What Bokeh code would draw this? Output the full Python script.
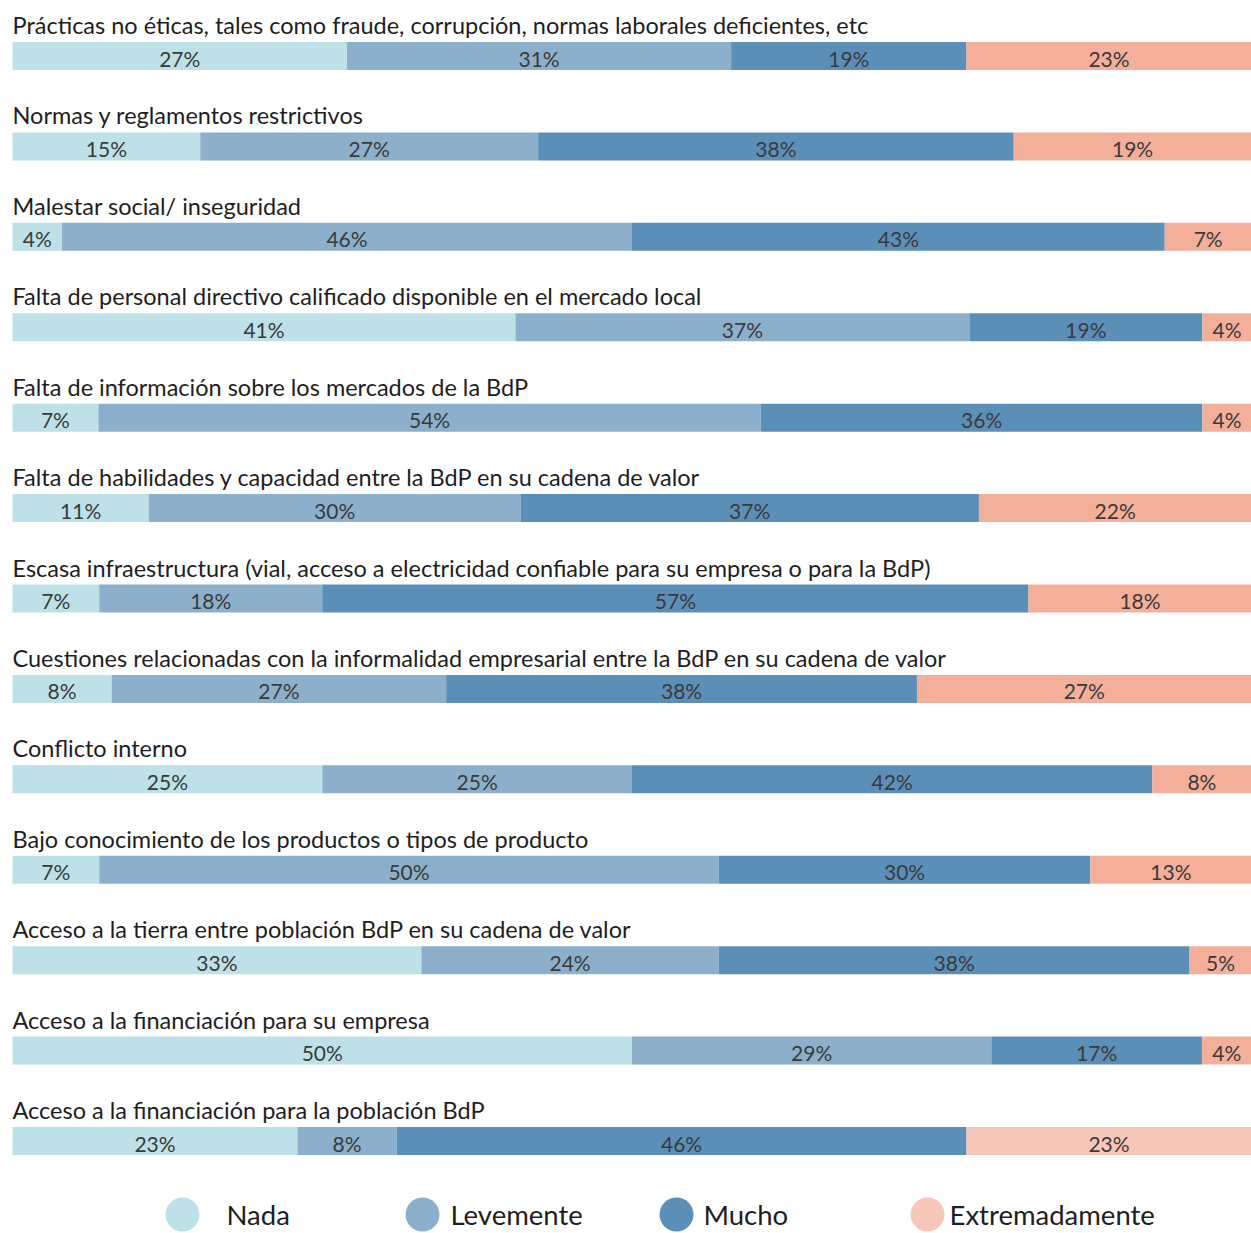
from bokeh.plotting import figure
from bokeh.models import Range1d, ColumnDataSource
from bokeh.core.properties import value
from bokeh.embed import file_html
from bokeh.resources import INLINE

categories = [
    "Prácticas no éticas, tales como fraude, corrupción, normas laborales deficientes, etc",
    "Normas y reglamentos restrictivos",
    "Malestar social/ inseguridad",
    "Falta de personal directivo calificado disponible en el mercado local",
    "Falta de información sobre los mercados de la BdP",
    "Falta de habilidades y capacidad entre la BdP en su cadena de valor",
    "Escasa infraestructura (vial, acceso a electricidad confiable para su empresa o para la BdP)",
    "Cuestiones relacionadas con la informalidad empresarial entre la BdP en su cadena de valor",
    "Conflicto interno",
    "Bajo conocimiento de los productos o tipos de producto",
    "Acceso a la tierra entre población BdP en su cadena de valor",
    "Acceso a la financiación para su empresa",
    "Acceso a la financiación para la población BdP",
]
series_names = ["Nada", "Levemente", "Mucho", "Extremadamente"]
nada = [27, 15, 4, 41, 7, 11, 7, 8, 25, 7, 33, 50, 23]
levemente = [31, 27, 46, 37, 54, 30, 18, 27, 25, 50, 24, 29, 8]
mucho = [19, 38, 43, 19, 36, 37, 57, 38, 42, 30, 38, 17, 46]
extremadamente = [23, 19, 7, 4, 4, 22, 18, 27, 8, 13, 5, 4, 23]

colors = ["#BDE1E6", "#8CB0CB", "#5B8FB8", "#F4AF9A"]
ext_light = "#F6C6B8"

W, H = 1251, 1233
LEFT_PX = 12.0
px_per_unit = (W - LEFT_PX) / 100.0
row_px = 90.42
top_px = 55.5
n = len(categories)


def to_x(px):
    return (px - LEFT_PX) / px_per_unit


p = figure(width=W, height=H, output_backend="svg", toolbar_location=None,
           x_range=Range1d(to_x(0), 100),
           y_range=Range1d((H - top_px) / row_px, -top_px / row_px),
           min_border=0, outline_line_color=None)
p.axis.visible = False
p.grid.visible = False
p.background_fill_color = "white"
p.border_fill_color = "white"

series = [nada, levemente, mucho, extremadamente]
lefts, rights, ys, cols, mids, labs = [], [], [], [], [], []
for i in range(n):
    vals = [s[i] for s in series]
    tot = float(sum(vals))
    acc = 0.0
    for j, v in enumerate(vals):
        w = v / tot * 100.0
        lefts.append(acc)
        rights.append(acc + w)
        ys.append(i)
        c = colors[j]
        if j == 3 and i == n - 1:
            c = ext_light
        cols.append(c)
        mids.append(acc + w / 2)
        labs.append(f"{v}%")
        acc += w

src = ColumnDataSource(dict(left=lefts, right=rights, y=ys, color=cols, mid=mids, lab=labs))
p.hbar(y="y", left="left", right="right", height=28 / row_px, fill_color="color",
       line_color=None, source=src)
p.text(x="mid", y="y", text="lab", source=src, text_align="center", text_baseline="middle",
       y_offset=2, text_font=value("Lato"), text_font_size="21px", text_color="#3a3a3a")

p.text(x=[0] * n, y=list(range(n)), text=categories, text_align="left", text_baseline="middle",
       y_offset=-31, text_font=value("Lato"), text_font_size="23.5px", text_color="#1e1e1e")

# legend (layout positions in pixels)
leg_circle_px = [182, 422, 676, 927]
leg_text_px = [226, 450, 703, 949]
leg_y = [n - 1 + (1214 - 1140.5) / row_px] * 4
leg_cols = colors[:3] + [ext_light]
p.scatter(x=[to_x(v) for v in leg_circle_px], y=leg_y, size=34, marker="circle",
          fill_color=leg_cols, line_color=None)
p.text(x=[to_x(v) for v in leg_text_px], y=leg_y, text=series_names, text_align="left",
       text_baseline="middle", text_font=value("Lato"), text_font_size="27.5px",
       text_color="#1e1e1e")

open("out.html", "w").write(file_html(p, INLINE))
